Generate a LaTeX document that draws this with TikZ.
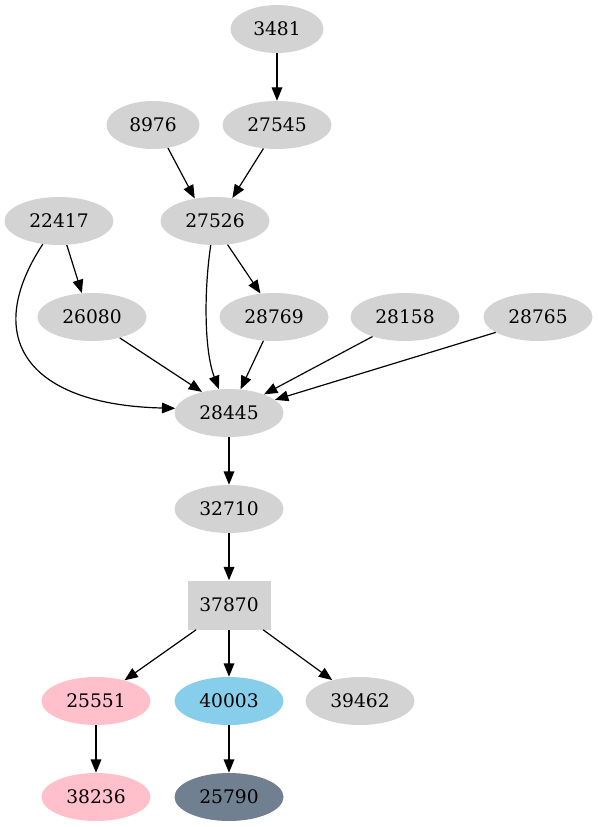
\documentclass[tikz,border=0pt]{standalone}
\usepackage{fontspec}
\setmainfont{DejaVu Serif}
\usetikzlibrary{shapes.geometric,arrows.meta}
\definecolor{lgray}{HTML}{D3D3D3}
\definecolor{gpink}{HTML}{FFC0CB}
\definecolor{gsky}{HTML}{87CEEB}
\definecolor{gslate}{HTML}{708090}
\begin{document}
\begin{tikzpicture}[x=0.75pt,y=-0.75pt,
  nd/.style={ellipse,fill=lgray,draw=none,inner sep=0pt,minimum width=81.75pt,minimum height=36pt,font=\fontsize{14}{16}\selectfont},
  sm/.style={nd,minimum width=69.75pt},
  bx/.style={rectangle,fill=lgray,draw=none,inner sep=0pt,minimum width=62.25pt,minimum height=36.75pt,font=\fontsize{14}{16}\selectfont},
  edge/.style={draw=black,line width=0.9pt,-{Triangle[length=10pt,width=8pt]}}]
\useasboundingbox (0,0) rectangle (597,827);
% nodes
\node[sm] (n3481) at (277,29) {3481};
\node[sm] (n8976) at (153,125) {8976};
\node[nd] (n27545) at (277,125) {27545};
\node[nd] (n22417) at (59,221) {22417};
\node[nd] (n27526) at (215,221) {27526};
\node[nd] (n26080) at (92,317) {26080};
\node[nd] (n28769) at (274,317) {28769};
\node[nd] (n28158) at (405,317) {28158};
\node[nd] (n28765) at (538,317) {28765};
\node[nd] (n28445) at (229,413) {28445};
\node[nd] (n32710) at (229,509) {32710};
\node[bx] (n37870) at (229,605) {37870};
\node[nd,fill=gpink] (n25551) at (96,701) {25551};
\node[nd,fill=gsky] (n40003) at (229,701) {40003};
\node[nd] (n39462) at (360,701) {39462};
\node[nd,fill=gpink] (n38236) at (96,797) {38236};
\node[nd,fill=gslate] (n25790) at (229,797) {25790};
% edges
\draw[edge] (n3481.south) -- (n27545.north);
\draw[edge] (n8976.-57) -- (n27526.132);
\draw[edge] (n27545.-120) -- (n27526.53);
\draw[edge] (n22417.-72) -- (n26080.113);
\draw[edge] (n27526.-62) -- (n28769.120);
\draw[edge] (n22417.-125) .. controls (-20,340) and (30,405) .. (n28445.175);
\draw[edge] (n27526.-100) .. controls (204,290) and (204,350) .. (n28445.113);
\draw[edge] (n26080.-37) -- (n28445.142);
\draw[edge] (n28769.-114) -- (n28445.64);
\draw[edge] (n28158.-149) -- (n28445.28);
\draw[edge] (n28765.-160) -- (n28445.16);
\draw[edge] (n28445.south) -- (n32710.north);
\draw[edge] (n32710.south) -- (n37870.north);
\draw[edge] (n37870.-143) -- (n25551.36);
\draw[edge] (n37870.south) -- (n40003.north);
\draw[edge] (n37870.-36) -- (n39462.143);
\draw[edge] (n25551.south) -- (n38236.north);
\draw[edge] (n40003.south) -- (n25790.north);
\end{tikzpicture}
\end{document}
